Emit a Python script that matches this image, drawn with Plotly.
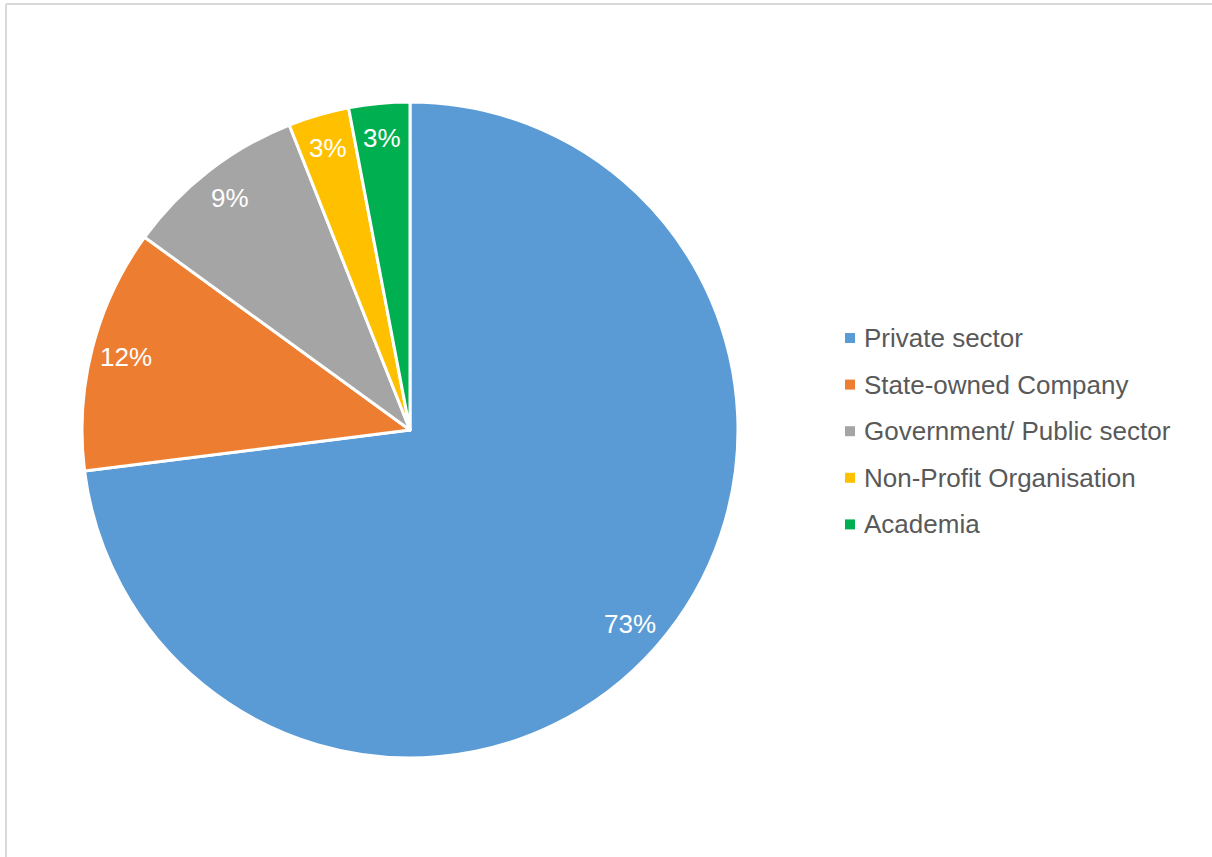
import math
import plotly.graph_objects as go

# Survey respondents by sector (percent)
sectors = ["Private sector", "State-owned Company", "Government/ Public sector",
           "Non-Profit Organisation", "Academia"]
shares = [73, 12, 9, 3, 3]
colors = ["#5B9BD5", "#ED7D31", "#A5A5A5", "#FFC000", "#00B050"]

W, H = 1212, 857
FONT = "Liberation Sans, Arial, sans-serif"

# Pie placement in pixels
CX, CY, R = 410, 430, 328
LABEL_R = 0.895  # data labels sit near the rim, on each slice's mid-angle

fig = go.Figure()
fig.add_trace(go.Pie(
    labels=sectors,
    values=shares,
    sort=False,
    direction="clockwise",
    rotation=0,
    marker=dict(colors=colors, line=dict(color="white", width=3)),
    textinfo="none",
    showlegend=False,
    hoverinfo="label+value",
    domain=dict(x=[(CX - R) / W, (CX + R) / W], y=[(H - CY - R) / H, (H - CY + R) / H]),
))

shapes = [
    # light frame along top and left edges
    dict(type="line", xref="paper", yref="paper", x0=6 / W, x1=1, y0=1 - 4 / H, y1=1 - 4 / H,
         line=dict(color="#D9D9D9", width=2)),
    dict(type="line", xref="paper", yref="paper", x0=6 / W, x1=6 / W, y0=0, y1=1 - 4 / H,
         line=dict(color="#D9D9D9", width=2)),
]
annotations = []

# Percentage labels placed at slice mid-angles (clockwise from 12 o'clock)
total = sum(shares)
cum = 0
for v in shares:
    mid = (cum + v / 2) / total * 2 * math.pi
    cum += v
    px = CX + LABEL_R * R * math.sin(mid)
    py = CY - LABEL_R * R * math.cos(mid)
    annotations.append(dict(xref="paper", yref="paper", x=px / W, y=1 - py / H,
                            xanchor="center", yanchor="middle", showarrow=False,
                            text=f"{v}%", font=dict(family=FONT, size=26, color="white")))

# Legend drawn as colored squares with labels
y_first, y_step = 338, 46.6
for i, (name, col) in enumerate(zip(sectors, colors)):
    yc = y_first + i * y_step
    shapes.append(dict(type="rect", xref="paper", yref="paper",
                       x0=845 / W, x1=855 / W, y0=1 - (yc + 5) / H, y1=1 - (yc - 5) / H,
                       fillcolor=col, line=dict(width=0)))
    annotations.append(dict(xref="paper", yref="paper", x=862 / W, y=1 - yc / H,
                            xanchor="left", yanchor="middle", showarrow=False,
                            text=name, font=dict(family=FONT, size=26, color="#595959")))

fig.update_layout(
    width=W, height=H,
    margin=dict(l=0, r=0, t=0, b=0),
    paper_bgcolor="white",
    plot_bgcolor="white",
    shapes=shapes,
    annotations=annotations,
)

fig.write_html("out.html")
